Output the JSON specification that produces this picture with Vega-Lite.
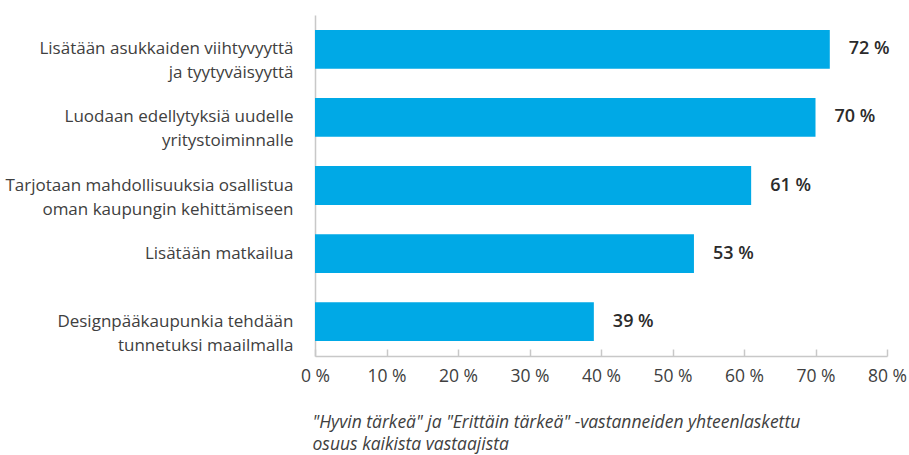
{
  "$schema": "https://vega.github.io/schema/vega-lite/v6.json",
  "width": 572,
  "height": 341,
  "autosize": "none",
  "padding": {"left": 315, "top": 15, "right": 22, "bottom": 99},
  "background": "white",
  "config": {"view": {"stroke": null}, "font": "Open Sans"},
  "data": {"values": [
    {"label": "Lisätään asukkaiden viihtyvyyttä|ja tyytyväisyyttä", "value": 72, "txt": "72 %"},
    {"label": "Luodaan edellytyksiä uudelle|yritystoiminnalle", "value": 70, "txt": "70 %"},
    {"label": "Tarjotaan mahdollisuuksia osallistua|oman kaupungin kehittämiseen", "value": 61, "txt": "61 %"},
    {"label": "Lisätään matkailua", "value": 53, "txt": "53 %"},
    {"label": "Designpääkaupunkia tehdään|tunnetuksi maailmalla", "value": 39, "txt": "39 %"}
  ]},
  "encoding": {
    "y": {
      "field": "label", "type": "nominal", "sort": null,
      "scale": {"paddingInner": 0.43, "paddingOuter": 0.22},
      "axis": {
        "title": null, "ticks": false, "labelExpr": "split(datum.label, '|')",
        "labelFontSize": 17, "labelColor": "#404040", "labelPadding": 22,
        "labelLineHeight": 24, "domainColor": "#C8C8C8", "domainWidth": 1.5, "labelLimit": 320
      }
    },
    "x": {
      "field": "value", "type": "quantitative",
      "scale": {"domain": [0, 80], "nice": false},
      "axis": {
        "values": [0,10,20,30,40,50,60,70,80],
        "labelExpr": "datum.value + ' %'", "labelFlush": false,
        "grid": false, "tickSize": -7, "tickColor": "#C8C8C8", "tickWidth": 1.5,
        "domainColor": "#C8C8C8", "domainWidth": 1.5,
        "labelFontSize": 17.5, "labelColor": "#404040", "labelPadding": 18,
        "title": ["\"Hyvin tärkeä\" ja \"Erittäin tärkeä\" -vastanneiden yhteenlaskettu", "osuus kaikista vastaajista"],
        "titleFontStyle": "italic", "titleFontWeight": "normal", "titleFontSize": 17.5,
        "titleColor": "#404040", "titleAnchor": "start", "titleAlign": "left",
        "titlePadding": 29, "titleLineHeight": 22, "titleX": -3
      }
    }
  },
  "layer": [
    {"mark": {"type": "bar", "color": "#00A9E6"}},
    {"mark": {"type": "text", "align": "left", "dx": 19, "fontSize": 18, "fontWeight": 600, "color": "#2b2b2b"},
     "encoding": {"text": {"field": "txt"}}}
  ]
}
